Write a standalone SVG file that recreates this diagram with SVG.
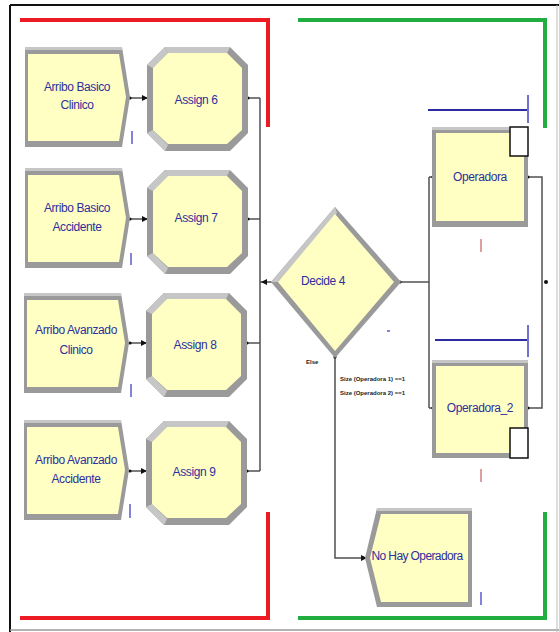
<svg xmlns="http://www.w3.org/2000/svg" xmlns:xlink="http://www.w3.org/1999/xlink" width="559" height="632" viewBox="0 0 559 632">
<style>
.lbl{font-family:"Liberation Sans",Arial,sans-serif;font-size:12px;fill:#2e2e9e;text-anchor:middle;letter-spacing:-0.4px}
.small{font-family:"Liberation Sans",Arial,sans-serif;font-size:6px;font-weight:bold;fill:#222}
.conn{stroke:#505050;stroke-width:1.5;fill:none}
.cnt{stroke:#5a5acc;stroke-width:1.5}
.cntr{stroke:#d08080;stroke-width:1.5}
.res{stroke:#2c2ca0;stroke-width:2}
.tick{stroke:#7070d0;stroke-width:2}
.red{stroke:#ec1c24;stroke-width:4;fill:none}
.green{stroke:#1fae3f;stroke-width:4;fill:none}
.shade{fill:#9a9a9a}
.light{fill:#c6c6c6}
.body{fill:#ffffc4}
</style>
<defs>
<marker id="arr" markerWidth="6" markerHeight="6" refX="5" refY="3" orient="auto" markerUnits="userSpaceOnUse">
<path d="M0,0 L6,3 L0,6 Z" fill="#111"/>
</marker>
<marker id="dot" markerWidth="4" markerHeight="4" refX="2" refY="2" markerUnits="userSpaceOnUse">
<circle cx="2" cy="2" r="1.6" fill="#111"/>
</marker>
<g id="createShape">
<polygon class="shade" points="0,0 97,0 105,50 97,100 0,100"/>
<rect class="light" x="0" y="0" width="97" height="3"/>
<polygon class="body" points="3,7 94,7 101,50 94,94 3,94"/>
</g>
<g id="assignShape">
<polygon class="shade" points="18,0 83,0 101,18 101,86 83,104 18,104 0,86 0,18"/>
<polygon class="light" points="18,0 83,0 80,6 21,6"/>
<polygon class="light" points="18,0 21,6 6,21 0,18"/>
<polygon class="light" points="0,86 6,83 21,98 18,104"/>
<polygon class="body" points="21,6 80,6 95,21 95,83 80,97 21,97 6,83 6,21"/>
</g>
</defs>
<rect x="0" y="0" width="559" height="632" fill="#ffffff"/>
<line x1="10" y1="5" x2="559" y2="5" stroke="#111" stroke-width="2"/>
<line x1="10" y1="5" x2="10" y2="632" stroke="#111" stroke-width="2"/>
<line x1="10" y1="630" x2="559" y2="630" stroke="#999" stroke-width="1.5"/>
<line x1="557" y1="5" x2="557" y2="632" stroke="#bbb" stroke-width="1"/>
<polyline class="red" points="20,20 268,20 268,127"/>
<polyline class="red" points="20,618 268,618 268,512"/>
<polyline class="green" points="298,20 545,20 545,128"/>
<polyline class="green" points="298,618 545,618 545,512"/>
<g id="connectors">
<line class="conn" x1="130" y1="98" x2="147" y2="98" marker-start="url(#dot)" marker-end="url(#arr)"/>
<line class="conn" x1="130" y1="219" x2="147" y2="219" marker-start="url(#dot)" marker-end="url(#arr)"/>
<line class="conn" x1="130" y1="343" x2="146" y2="343" marker-start="url(#dot)" marker-end="url(#arr)"/>
<line class="conn" x1="130" y1="471" x2="146" y2="471" marker-start="url(#dot)" marker-end="url(#arr)"/>
<line class="conn" x1="248" y1="98" x2="260" y2="98" marker-start="url(#dot)"/>
<line class="conn" x1="248" y1="219" x2="260" y2="219" marker-start="url(#dot)"/>
<line class="conn" x1="247" y1="343" x2="260" y2="343" marker-start="url(#dot)"/>
<line class="conn" x1="247" y1="471" x2="260" y2="471" marker-start="url(#dot)"/>
<line class="conn" x1="260" y1="98" x2="260" y2="471"/>
<line class="conn" x1="260" y1="282" x2="272" y2="282"/>
<path d="M261,282 L267,279 L267,285 Z" fill="#111"/>
<line class="conn" x1="400" y1="282" x2="429" y2="282" marker-start="url(#dot)"/>
<line class="conn" x1="429" y1="177" x2="429" y2="408"/>
<line class="conn" x1="429" y1="177" x2="433" y2="177" marker-end="url(#dot)"/>
<line class="conn" x1="429" y1="408" x2="433" y2="408" marker-end="url(#dot)"/>
<polyline class="conn" points="528,177 542,177 542,408 528,408" marker-start="url(#dot)" marker-end="url(#dot)"/>
<circle cx="546" cy="282" r="2" fill="#111"/>
<polyline class="conn" points="335,357 335,558 366,558" marker-start="url(#dot)" marker-end="url(#arr)"/>
</g>
<g id="arribo-basico-clinico">
<use xlink:href="#createShape" href="#createShape" x="25" y="47"/>
<text class="lbl" x="77" y="91">Arribo Basico</text>
<text class="lbl" x="77" y="109">Clinico</text>
<line class="cnt" x1="132" y1="131" x2="132" y2="144"/>
</g>
<g id="arribo-basico-accidente">
<use xlink:href="#createShape" href="#createShape" x="25" y="168"/>
<text class="lbl" x="77" y="212">Arribo Basico</text>
<text class="lbl" x="77" y="231">Accidente</text>
<line class="cnt" x1="131" y1="253" x2="131" y2="265"/>
</g>
<g id="arribo-avanzado-clinico">
<use xlink:href="#createShape" href="#createShape" x="24" y="293"/>
<text class="lbl" x="76" y="334">Arribo Avanzado</text>
<text class="lbl" x="76" y="354">Clinico</text>
<line class="cnt" x1="131" y1="384" x2="131" y2="397"/>
</g>
<g id="arribo-avanzado-accidente">
<use xlink:href="#createShape" href="#createShape" x="24" y="420"/>
<text class="lbl" x="76" y="464">Arribo Avanzado</text>
<text class="lbl" x="76" y="483">Accidente</text>
<line class="cnt" x1="130" y1="504" x2="130" y2="518"/>
</g>
<g id="assign-6">
<use xlink:href="#assignShape" href="#assignShape" x="147" y="47"/>
<text class="lbl" x="196" y="104">Assign 6</text>
</g>
<g id="assign-7">
<use xlink:href="#assignShape" href="#assignShape" x="147" y="170"/>
<text class="lbl" x="196" y="222">Assign 7</text>
</g>
<g id="assign-8">
<use xlink:href="#assignShape" href="#assignShape" x="146" y="293"/>
<text class="lbl" x="195" y="349">Assign 8</text>
</g>
<g id="assign-9">
<use xlink:href="#assignShape" href="#assignShape" x="146" y="421"/>
<text class="lbl" x="194" y="476">Assign 9</text>
</g>
<g id="decide-4">
<polygon points="335,207 401,282 335,358 271,282" fill="#9a9a9a"/>
<polygon points="271,282 335,207 337,213 278,282" fill="#c6c6c6"/>
<polygon points="335,214 394,282 335,351 278,282" fill="#ffffc4"/>
<text class="lbl" x="323" y="285">Decide 4</text>
<line x1="387" y1="331" x2="390" y2="331" stroke="#5a5acc" stroke-width="1.5"/>
<text class="small" x="306" y="364">Else</text>
<text class="small" x="340" y="381">Size (Operadora 1) ==1</text>
<text class="small" x="340" y="395">Size (Operadora 2) ==1</text>
</g>
<g id="operadora">
<line class="res" x1="428" y1="110" x2="528" y2="110"/>
<line class="tick" x1="528" y1="95" x2="528" y2="123"/>
<rect x="432" y="127" width="96" height="100" fill="#9a9a9a"/>
<rect x="432" y="127" width="96" height="3" fill="#c6c6c6"/>
<rect x="436" y="133" width="88" height="88" fill="#ffffc4"/>
<rect x="510" y="127" width="18" height="29" fill="#ffffff" stroke="#111" stroke-width="1.5"/>
<text class="lbl" x="480" y="181">Operadora</text>
<line class="cntr" x1="481" y1="239" x2="481" y2="252"/>
</g>
<g id="operadora-2">
<line class="res" x1="435" y1="340" x2="528" y2="340"/>
<line class="tick" x1="528" y1="325" x2="528" y2="357"/>
<rect x="432" y="360" width="96" height="98" fill="#9a9a9a"/>
<rect x="432" y="360" width="96" height="3" fill="#c6c6c6"/>
<rect x="436" y="366" width="88" height="87" fill="#ffffc4"/>
<rect x="510" y="428" width="18" height="30" fill="#ffffff" stroke="#111" stroke-width="1.5"/>
<text class="lbl" x="480" y="412">Operadora_2</text>
<line class="cntr" x1="481" y1="469" x2="481" y2="482"/>
</g>
<g id="no-hay-operadora">
<polygon points="377,508 472,508 472,607 377,607 365,558" fill="#9a9a9a"/>
<rect x="377" y="508" width="95" height="3" fill="#c6c6c6"/>
<polygon points="381,514 468,514 468,602 381,602 370,558" fill="#ffffc4"/>
<text class="lbl" x="417" y="560" style="letter-spacing:-0.6px">No Hay Operadora</text>
<line class="cnt" x1="481" y1="592" x2="481" y2="605"/>
</g>
</svg>
